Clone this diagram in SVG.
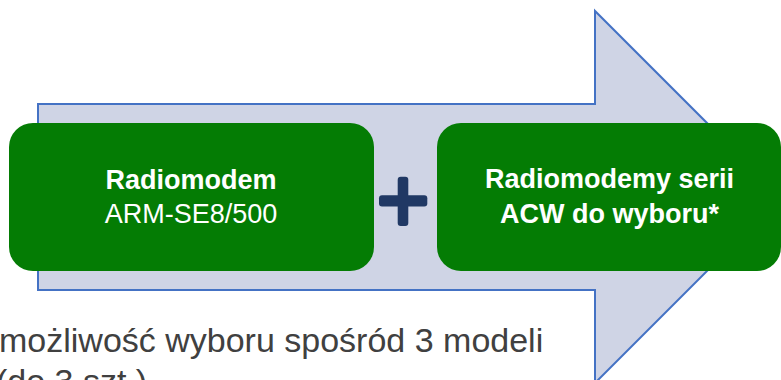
<svg xmlns="http://www.w3.org/2000/svg" width="781" height="380" viewBox="0 0 781 380">
<style>
.box{fill:#047c04;}
.t{font-family:"Liberation Sans",Arial,sans-serif;fill:#ffffff;text-anchor:middle;font-size:27px;}
.b{font-weight:bold;}
.note{font-family:"Liberation Sans",Arial,sans-serif;fill:#404040;font-size:34px;}
</style>
<rect x="0" y="0" width="781" height="380" fill="#ffffff"/>
<g id="arrow">
<polygon points="38,104 595,104 595,11 781,197 595,383 595,290 38,290" fill="#cfd4e5" stroke="#4472c4" stroke-width="2"/>
</g>
<g id="node1">
<rect class="box" x="9" y="123" width="365" height="148" rx="24" ry="24"/>
<text class="t b" x="191" y="189">Radiomodem</text>
<text class="t" x="191" y="223">ARM-SE8/500</text>
</g>
<g id="plus">
<rect x="397.7" y="176.7" width="10.6" height="49.3" rx="3" fill="#203864"/>
<rect x="379" y="195.2" width="48.3" height="11.4" rx="3" fill="#203864"/>
</g>
<g id="node2">
<rect class="box" x="437" y="123" width="344" height="148" rx="24" ry="24"/>
<text class="t b" x="609.5" y="188">Radiomodemy serii</text>
<text class="t b" x="609.5" y="223">ACW do wyboru*</text>
</g>
<g id="connectors"></g>
<g id="note">
<text class="note" x="-1" y="352">możliwość wyboru spośród 3 modeli</text>
<text class="note" x="-4" y="393">(do 3 szt.)</text>
</g>
</svg>
